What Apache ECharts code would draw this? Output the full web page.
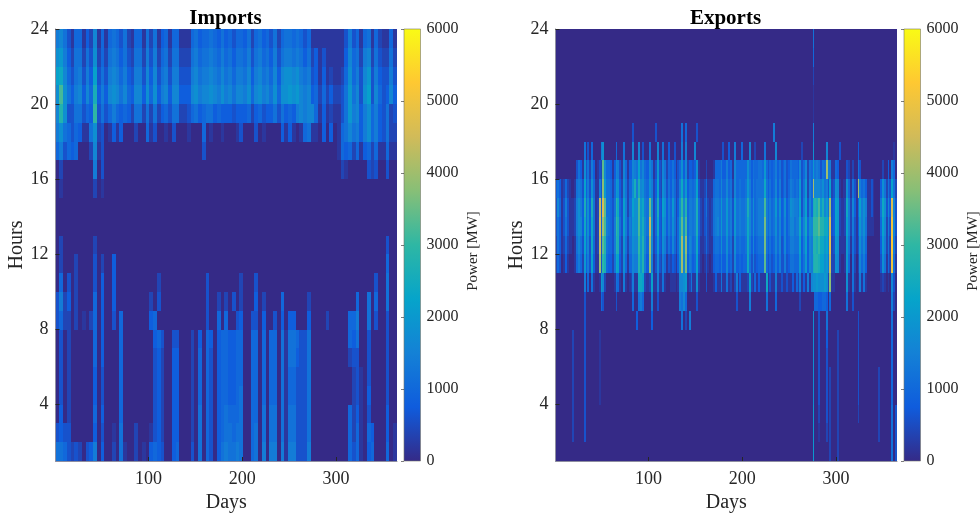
<!DOCTYPE html>
<html>
<head>
<meta charset="utf-8">
<style>html,body{margin:0;padding:0;background:#fff}#c{width:980px;height:513px}</style>
<script src="https://cdn.jsdelivr.net/npm/echarts@6/dist/echarts.min.js"></script>
</head>
<body>
<div id="c"></div>
<script>
// Values. One string per hour row (hour 23 at the top, hour 1 last).
// Each character is one column (4 days in the imports rows, 2 days in the exports rows);
// base-36 digit in units of 200 MW. Spaces only group ten columns. Missing columns are 0.
var importsByHour = [
"7863155142 8151565362 1551626145 1551115645 5654645355 4625645362 5665653511 1111111373 5156152115 11",
"9a74266263 9252676463 2662737256 2662226756 6765756466 5736756473 6776764624 1311111485 6278263226 22",
"bc85367374 b363787574 3773848367 3773337867 7876867577 6847867584 8998976734 1412112595 738a374337 33",
"9g96478485 d474898685 4884959478 4884448978 8987978688 7958978695 99a9a87845 25242236a6 839b385348 43",
"8e93366354 f363575454 2662626245 3662235645 6645444344 4524534463 6454787885 1412113 6a7 8479574362 31",
"7965354116 9230141400 0200513001 0300010005 0100100013 0003010000 4141015611 0404015686 7479574362 21",
"5735450002 8130000000 0000000000 0000000003 0000000000 0000000000 0000000000 0000015452 5145251151 10",
"0200000000 7030000000 0000000000 0000000000 0000000000 0000000000 0000000000 0000002100 0003230030 00",
"0100000000 2010000000",
"",
"",
"0200000000 2000000000 0000000000 0000000000 0000000000 0000000000 0000000000 0000000000 0000000030 00",
"0200020000 3020040000 0000000000 0000000000 0000000000 0000000000 0000000000 0000000000 0000000050 00",
"0503020000 3040040000 0000000200 0000000000 3000000002 0003000000 0000000000 0000000000 0000030060 00",
"3724020000 5040040000 0000020300 0000000000 3002020302 0004020000 5000000200 0000000000 5006050060 00",
"3522020102 5040030500 0000045000 0000000000 3005050034 0033040030 4044000400 0020000055 7006030030 00",
"0302000000 5040000500 0000004530 0330002040 5404554455 0055050550 6166533600 0000000054 6003000030 00",
"0302000000 5040000500 0000003420 0440002050 5304554455 0055050550 6166433600 0000000023 3003000030 00",
"0302000000 4030000500 0000003420 0440002050 5304554455 0055050550 6155333600 0000000002 3103000030 00",
"0302000000 4030000500 0000003420 0440002050 5304554456 0055050550 6155333600 0000000002 3104000030 00",
"0402000000 5040000500 0000003420 0440002060 5304565556 0055060660 6166333600 0000000052 4103000040 00",
"3433000000 4030010600 0200013420 0440002060 5304566566 0056060660 6166333600 0000000052 5105400040 10",
"6653232034 7040020610 0201045430 0450003060 5304676676 0056070770 7177333700 0000000053 5104500050 10"
];
var exportsByHour = [
"0000000000 0000000000 0000000000 0000000000 0000000000 0000000000 0000000000 0000000000 0000000000 0000000000 0000000000 0000000000 0000000000 0000000600 0000000000 0000000000 0000000000 0000000000 0000",
"0000000000 0000000000 0000000000 0000000000 0000000000 0000000000 0000000000 0000000000 0000000000 0000000000 0000000000 0000000000 0000000000 0000000500 0000000000 0000000000 0000000000 0000000000 0000",
"0000000000 0000000000 0000000000 0000000000 0000000000 0000000000 0000000000 0000000000 0000000000 0000000000 0000000000 0000000000 0000000000 0000000200 0000000000 0000000000 0000000000 0000000000 0000",
"0000000000 0000000000 0000000000 0000000000 0000000000 0000000000 0000000000 0000000000 0000000000 0000000000 0000000000 0000000000 0000000000 0000000100 0000000000 0000000000 0000000000 0000000000 0000",
"0000000000 0000000000 0000000000 0000000000 0000000000 0000000000 0000000000 0000000000 0000000000 0000000000 0000000000 0000000000 0000000000 0000000100 0000000000 0000000000 0000000000 0000000000 0000",
"0000000000 0000000000 0000000000 0000000000 0300000000 0003000000 0000000605 0000030000 0000000000 0000000000 0000000000 0000007000 0000000000 0000000700 0000000000 0000000000 0000000000 0000000000 0000",
"0000000000 0000060305 0000790000 0050006000 0800803000 6000800600 4003000707 0000800000 0000000003 0040070005 0008002000 0600000800 0000000000 0200000900 0000800000 0300000000 0400000000 0000000000 1000",
"0000000000 0364193627 40132h8554 1487318514 4876b68544 8613a32862 5464135948 2443491000 2000155574 4745185555 5596465566 5a53545746 3463465554 8358265a67 6365k77115 4000032020 0630000000 0000200407 5000",
"4641252100 16763b4739 51173ja665 25a9429625 59d7d89655 9724b32973 6475237c6a 46656b3112 5111566585 5856285565 56a7475666 6c64645847 3463576565 a36a275k88 879673b239 8101195163 1k75641131 000496263b 6210",
"3851373111 27974d594d 612m4nh665 36ec53b726 6b99gac766 i925d43b94 75a6249f8e 57767d5213 62126776a6 6a673a6676 67d8595677 7g75756a59 4594698776 b37b385ded gad8a6k34b a2112c7284 15b7971131 0006c9384n 8311",
"3641363111 27984c594c 612n4kg765 37fd63b737 6a99gad866 m925c43a84 759625ah9g 57767d5213 52126786a6 6a673a6676 67c8595677 7i75756958 4584688677 c58c598fff heecc8n34b a2112b7273 14a7961111 0005b8273p 8311",
"2641252110 16863b583c 512m3he655 37ed52a626 6988fae855 k824a43973 648525ak9j 58756c4112 5211566595 5956295565 56c7484566 6i64645858 3484577666 b47b487eed fccab7o23a 91111a6163 1396850000 0004a7262q 7200",
"2530141000 15752a473b 411k3fd544 26cb429515 5877eae744 j713832751 3243149k8i 47645b3101 3101455474 4845284454 55c6373455 5h53534747 3373466555 a46a487dee dbb9a6m229 81001a5062 0285740000 000396152p 6100",
"0000000000 0000070506 1001a82000 0165107101 2711ccb211 2b11711610 011101889a 1261191000 3000141161 1612027141 112b215141 11c1311711 3113114152 714171899a 999a92j110 0000091061 0171610000 0001210108 3000",
"0000000000 0000030000 0000530000 0030000000 0500675000 0700300000 0000007685 0000030000 0000000000 0000003000 0007000000 0060000500 0000000000 2000000055 4455405000 0000060030 0000000000 0000000007 2000",
"0000000000 0000030000 0000000000 0000000000 0004000000 0400000000 0000000602 0700000000 0000000000 0000000000 0000000000 0000000000 0000000000 0000000900 3000600000 0000000000 0300000000 0000000006 0000",
"0000000002 0000030000 0001000000 0000000000 0000000000 0000000000 0000000000 0000000000 0000000000 0000000000 0000000000 0000000000 0000000000 0000000900 3000400000 2000000000 0300000000 0000000005 0000",
"0000000002 0000030000 0001000000 0000000000 0000000000 0000000000 0000000000 0000000000 0000000000 0000000000 0000000000 0000000000 0000000000 0000000900 3000300000 2000000000 0300000000 0000000005 0000",
"0000000002 0000030000 0001000000 0000000000 0000000000 0000000000 0000000000 0000000000 0000000000 0000000000 0000000000 0000000000 0000000000 0000000900 3000302000 2000000000 0300000000 0020000005 0000",
"0000000002 0000030000 0001000000 0000000000 0000000000 0000000000 0000000000 0000000000 0000000000 0000000000 0000000000 0000000000 0000000000 0000000900 3000302000 2000000000 0300000000 0020000005 0000",
"0000000002 0000030000 0000000000 0000000000 0000000000 0000000000 0000000000 0000000000 0000000000 0000000000 0000000000 0000000000 0000000000 0000000a00 2000302000 2000000000 0200000000 0020000006 0300",
"0000000002 0000030000 0000000000 0000000000 0000000000 0000000000 0000000000 0000000000 0000000000 0000000000 0000000000 0000000000 0000000000 0000000a00 1000202000 2000000000 0000000000 0020000006 0300",
"0000000000 0000000000 0000000000 0000000000 0000000000 0000000000 0000000000 0000000000 0000000000 0000000000 0000000000 0000000000 0000000000 0000000a00 0000002000 2000000000 0000000000 0000000006 0300"
];
var hourTicks = [4, 8, 12, 16, 20, 24];
var dayTicks = [100, 200, 300];
var powerMax = 6000;
var parula = ['#352a87','#0f5cdd','#1481d6','#06a4ca','#2eb7a4','#87bf77','#d1bb59','#fec832','#f9fb15'];

var serif = '"Liberation Serif","Times New Roman",serif';
var textCol = '#262626';
var unit = 200;

function toCells(rows, binDays) {
  var columns = Math.ceil(365 / binDays);
  var out = [];
  rows.forEach(function (row, r) {
    var s = row.replace(/ /g, '');
    while (s.length < columns) s += '0';
    var hour = 23 - r;
    for (var b = 0; b < columns; b++) {
      var d0 = 1 + b * binDays, d1 = Math.min(365, d0 + binDays);
      if (d0 < 365) out.push([d0, d1, hour, hour + 1, parseInt(s.charAt(b), 36) * unit]);
    }
  });
  return out;
}
function cell(params, api) {
  var a = api.coord([api.value(0), api.value(3)]);
  var b = api.coord([api.value(1), api.value(2)]);
  var x0 = Math.round(a[0]), x1 = Math.round(b[0]), y0 = Math.round(a[1]), y1 = Math.round(b[1]);
  return { type: 'rect', shape: { x: x0, y: y0, width: x1 - x0, height: y1 - y0 },
           style: { fill: api.visual('color') } };
}
function colorbar(params, api) {
  var a = api.coord([0, powerMax]), b = api.coord([1, 0]);
  var stops = parula.map(function (c, i) { return { offset: 1 - i / (parula.length - 1), color: c }; });
  return { type: 'rect', shape: { x: a[0], y: a[1], width: b[0] - a[0], height: b[1] - a[1] },
           style: { stroke: '#77776a', lineWidth: 0.6, fill: new echarts.graphic.LinearGradient(0, 0, 0, 1, stops) } };
}
var lbl = { fontFamily: serif, fontSize: 18, color: textCol };
var nameStyle = { fontFamily: serif, fontSize: 20, color: textCol };
var edge = { show: true, lineStyle: { color: '#8e8ea0', width: 1 } };
var panels = [
  { left: 55.5, cb: 404, title: 'Imports', rows: importsByHour, binDays: 4 },
  { left: 555.5, cb: 904, title: 'Exports', rows: exportsByHour, binDays: 2 }
];
var option = { animation: false, backgroundColor: '#fff', title: [], grid: [], xAxis: [], yAxis: [], series: [],
  visualMap: { show: false, type: 'continuous', min: 0, max: powerMax, dimension: 4, seriesIndex: [0, 2], inRange: { color: parula } } };

panels.forEach(function (p, i) {
  var g = i * 2;
  option.title.push({ text: p.title, left: p.left + 165, top: 3, textAlign: 'center',
    textStyle: { fontFamily: serif, fontSize: 21, fontWeight: 'bold', color: '#000' } });
  option.grid.push({ left: p.left, top: 29, width: 341.5, height: 432, outerBoundsMode: 'none' });
  option.grid.push({ left: p.cb, top: 29, width: 16.5, height: 432, outerBoundsMode: 'none' });
  option.xAxis.push({ type: 'value', gridIndex: g, min: 1, max: 365, z: 5, splitLine: { show: false },
    axisLine: edge, name: 'Days', nameLocation: 'middle', nameGap: 31, nameTextStyle: nameStyle,
    axisTick: { inside: true, length: 4, customValues: dayTicks, lineStyle: { color: textCol } },
    axisLabel: Object.assign({ customValues: dayTicks, margin: 9 }, lbl) });
  option.yAxis.push({ type: 'value', gridIndex: g, min: 1, max: 24, z: 5, splitLine: { show: false },
    axisLine: edge, name: 'Hours', nameLocation: 'middle', nameGap: 24, nameTextStyle: nameStyle,
    axisTick: { inside: true, length: 4, customValues: hourTicks, lineStyle: { color: textCol } },
    axisLabel: Object.assign({ customValues: hourTicks, margin: 7, padding: [3, 0, 0, 0] }, lbl) });
  option.xAxis.push({ type: 'value', gridIndex: g + 1, min: 0, max: 1, show: false });
  option.yAxis.push({ type: 'value', gridIndex: g + 1, position: 'right', min: 0, max: powerMax, interval: 1000, z: 5,
    splitLine: { show: false }, axisLine: { show: false },
    axisTick: { show: true, inside: true, length: 3, lineStyle: { color: textCol, width: 0.6 } },
    axisLabel: Object.assign({ margin: 6, padding: [3, 0, 0, 0], formatter: function (v) { return String(v); } }, lbl, { fontSize: 16 }),
    name: 'Power [MW]', nameLocation: 'middle', nameRotate: 90, nameGap: 45,
    nameTextStyle: { fontFamily: serif, fontSize: 15, color: textCol, padding: [0, 12, 0, 0] } });
  option.series.push({ type: 'custom', xAxisIndex: g, yAxisIndex: g, renderItem: cell, clip: true, silent: true,
    encode: { x: [0, 1], y: [2, 3] }, data: toCells(p.rows, p.binDays), progressive: 0, z: 2 });
  option.series.push({ type: 'custom', xAxisIndex: g + 1, yAxisIndex: g + 1, renderItem: colorbar, silent: true,
    data: [[0, 0]], z: 2 });
});
echarts.init(document.getElementById('c'), null, { renderer: 'canvas' }).setOption(option);
</script>
</body>
</html>
